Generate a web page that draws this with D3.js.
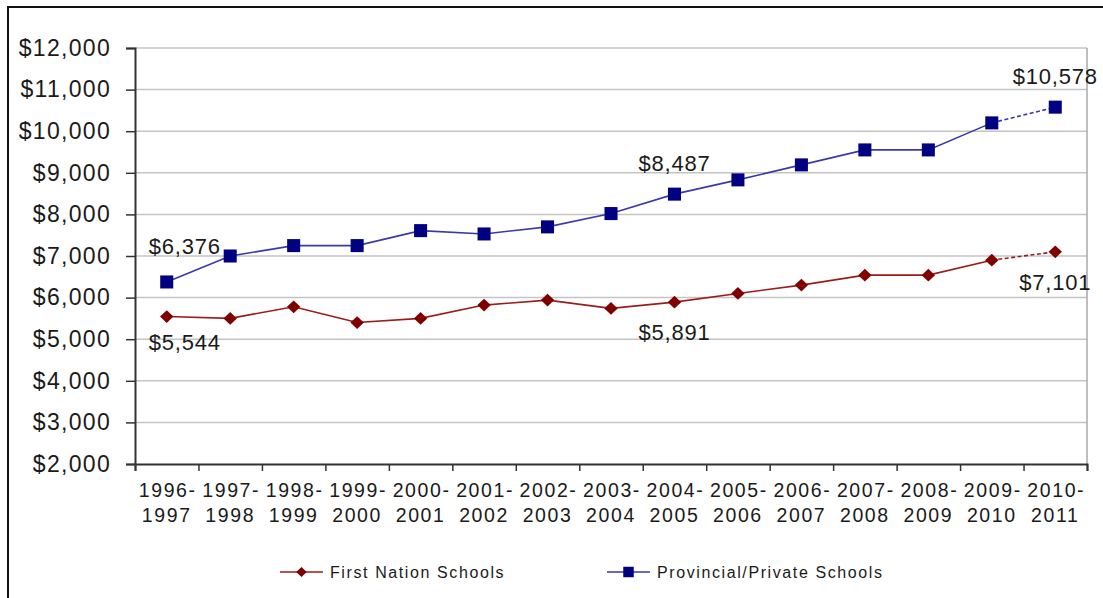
<!DOCTYPE html>
<html>
<head>
<meta charset="utf-8">
<script src="https://cdn.jsdelivr.net/npm/d3@7"></script>
<style>
    body { margin: 0; background: #fff; }
    svg { display: block; font-family: "Liberation Sans", Arial, sans-serif; }
</style>
</head>
<body>
<svg id="chart" width="1103" height="598"></svg>
<script>
var years = ["1996-1997", "1997-1998", "1998-1999", "1999-2000", "2000-2001", "2001-2002", "2002-2003",
    "2003-2004", "2004-2005", "2005-2006", "2006-2007", "2007-2008", "2008-2009", "2009-2010", "2010-2011"];

var firstNation = [5544, 5500, 5780, 5400, 5500, 5820, 5940, 5740, 5891, 6100, 6300, 6540, 6540, 6900, 7101];
var provincial = [6376, 7000, 7250, 7250, 7610, 7530, 7700, 8020, 8487, 8830, 9190, 9550, 9550, 10200, 10578];

var yTicks = [2000, 3000, 4000, 5000, 6000, 7000, 8000, 9000, 10000, 11000, 12000];

// which points get a value label, and where it sits (above / below)
var fnLabels = [[0, "below"], [8, "below"], [14, "below"]];
var provLabels = [[0, "above"], [8, "above"], [14, "above"]];

var svg = d3.select("#chart");
var plotLeft = 135, plotRight = 1087, plotTop = 48, plotBottom = 464;

var x = d3.scaleBand().domain(years).range([plotLeft, plotRight]).padding(0);
var y = d3.scaleLinear().domain([2000, 12000]).range([plotBottom, plotTop]);
var cx = function(i) { return x(years[i]) + x.bandwidth() / 2; };

// wide excel-style diamond
var wideDiamond = {
    draw: function(context, size) {
        var r = Math.sqrt(size) / 2;
        context.moveTo(0, -r * 0.95);
        context.lineTo(r, 0);
        context.lineTo(0, r * 0.95);
        context.lineTo(-r, 0);
        context.closePath();
    }
};

// outer frame
svg.append("rect")
    .attr("x", 8).attr("y", 7).attr("width", 1110).attr("height", 610)
    .attr("fill", "none").attr("stroke", "#111").attr("stroke-width", 2);

// gridlines
svg.append("g").selectAll("line")
    .data(yTicks.slice(1))
    .enter().append("line")
    .attr("x1", plotLeft).attr("x2", plotRight)
    .attr("y1", function(d) { return y(d); })
    .attr("y2", function(d) { return y(d); })
    .attr("stroke", "#c4c4c4").attr("stroke-width", 1.5);

// plot right border
svg.append("line")
    .attr("x1", plotRight).attr("x2", plotRight).attr("y1", plotTop).attr("y2", plotBottom)
    .attr("stroke", "#a8a8a8").attr("stroke-width", 1.5);

// y axis
var yAxis = svg.append("g")
    .attr("transform", "translate(" + plotLeft + ",0)")
    .call(d3.axisLeft(y).tickValues(yTicks).tickSize(9).tickPadding(15)
        .tickFormat(function(d) { return "$" + d3.format(",")(d); }));
yAxis.select(".domain").attr("stroke", "#333").attr("stroke-width", 2);
yAxis.selectAll(".tick line").attr("stroke", "#333").attr("stroke-width", 1.5);
yAxis.selectAll(".tick text")
    .attr("fill", "#1a1a1a").style("font-size", "23px").style("letter-spacing", "1.3px");

// x axis, ticks at category boundaries
var edges = d3.scaleLinear().domain([0, years.length]).range([plotLeft, plotRight]);
var xAxis = svg.append("g")
    .attr("transform", "translate(0," + plotBottom + ")")
    .call(d3.axisBottom(edges).tickValues(d3.range(years.length + 1)).tickSize(7).tickFormat(""));
xAxis.select(".domain").attr("stroke", "#333").attr("stroke-width", 2);
xAxis.selectAll(".tick line").attr("stroke", "#333").attr("stroke-width", 1.5);

var xLabels = svg.append("g").selectAll("text")
    .data(years)
    .enter().append("text")
    .attr("text-anchor", "middle")
    .attr("fill", "#1a1a1a")
    .style("font-size", "19.5px")
    .style("letter-spacing", "1.6px");
xLabels.append("tspan")
    .attr("x", function(d) { return x(d) + x.bandwidth() / 2 + 1; })
    .attr("y", 497)
    .text(function(d) { return d.split("-")[0] + "-"; });
xLabels.append("tspan")
    .attr("x", function(d) { return x(d) + x.bandwidth() / 2; })
    .attr("y", 522)
    .text(function(d) { return d.split("-")[1]; });

function drawSeries(values, lineColor, markColor, shape, size) {
    var n = values.length;
    var line = d3.line()
        .x(function(d) { return cx(d[0]); })
        .y(function(d) { return y(d[1]); });
    var pts = values.map(function(v, i) { return [i, v]; });
    svg.append("path")
        .datum(pts.slice(0, n - 1))
        .attr("d", line)
        .attr("fill", "none").attr("stroke", lineColor).attr("stroke-width", 1.6);
    svg.append("path")
        .datum(pts.slice(n - 2))
        .attr("d", line)
        .attr("fill", "none").attr("stroke", lineColor).attr("stroke-width", 1.6)
        .attr("stroke-dasharray", "4,2.5");
    svg.append("g").selectAll("path")
        .data(pts)
        .enter().append("path")
        .attr("transform", function(d) { return "translate(" + cx(d[0]) + "," + y(d[1]) + ")"; })
        .attr("d", d3.symbol().type(shape).size(size))
        .attr("fill", markColor);
}

drawSeries(firstNation, "#9a1d1d", "#800000", wideDiamond, 180);
drawSeries(provincial, "#3a3aa6", "#000080", d3.symbolSquare, 170);

function drawLabels(values, spec) {
    svg.append("g").selectAll("text")
        .data(spec)
        .enter().append("text")
        .attr("x", function(d) { return cx(d[0]) + (d[0] === 0 ? 18 : 0); })
        .attr("y", function(d) {
            var py = y(values[d[0]]);
            if (d[1] === "above") return py - (d[0] === 0 ? 28 : 23);
            return py + (d[0] === 0 ? 33 : 38);
        })
        .attr("text-anchor", "middle")
        .attr("fill", "#1a1a1a")
        .style("font-size", "22px")
        .style("letter-spacing", "0.8px")
        .text(function(d) { return "$" + d3.format(",")(values[d[0]]); });
}

drawLabels(firstNation, fnLabels);
drawLabels(provincial, provLabels);

// legend
var legend = [
    { name: "First Nation Schools", x: 280, line: "#9a1d1d", mark: "#800000", shape: wideDiamond, size: 110 },
    { name: "Provincial/Private Schools", x: 607, line: "#3a3aa6", mark: "#000080", shape: d3.symbolSquare, size: 110 }
];
var lg = svg.append("g").selectAll("g")
    .data(legend)
    .enter().append("g")
    .attr("transform", function(d) { return "translate(" + d.x + ",572)"; });
lg.append("line")
    .attr("x1", 0).attr("x2", 43)
    .attr("stroke", function(d) { return d.line; }).attr("stroke-width", 1.6);
lg.append("path")
    .attr("transform", "translate(21.5,0)")
    .attr("d", function(d) { return d3.symbol().type(d.shape).size(d.size)(); })
    .attr("fill", function(d) { return d.mark; });
lg.append("text")
    .attr("x", 50).attr("y", 6)
    .attr("fill", "#1a1a1a")
    .style("font-size", "16px")
    .style("letter-spacing", "1.6px")
    .text(function(d) { return d.name; });
</script>
</body>
</html>
